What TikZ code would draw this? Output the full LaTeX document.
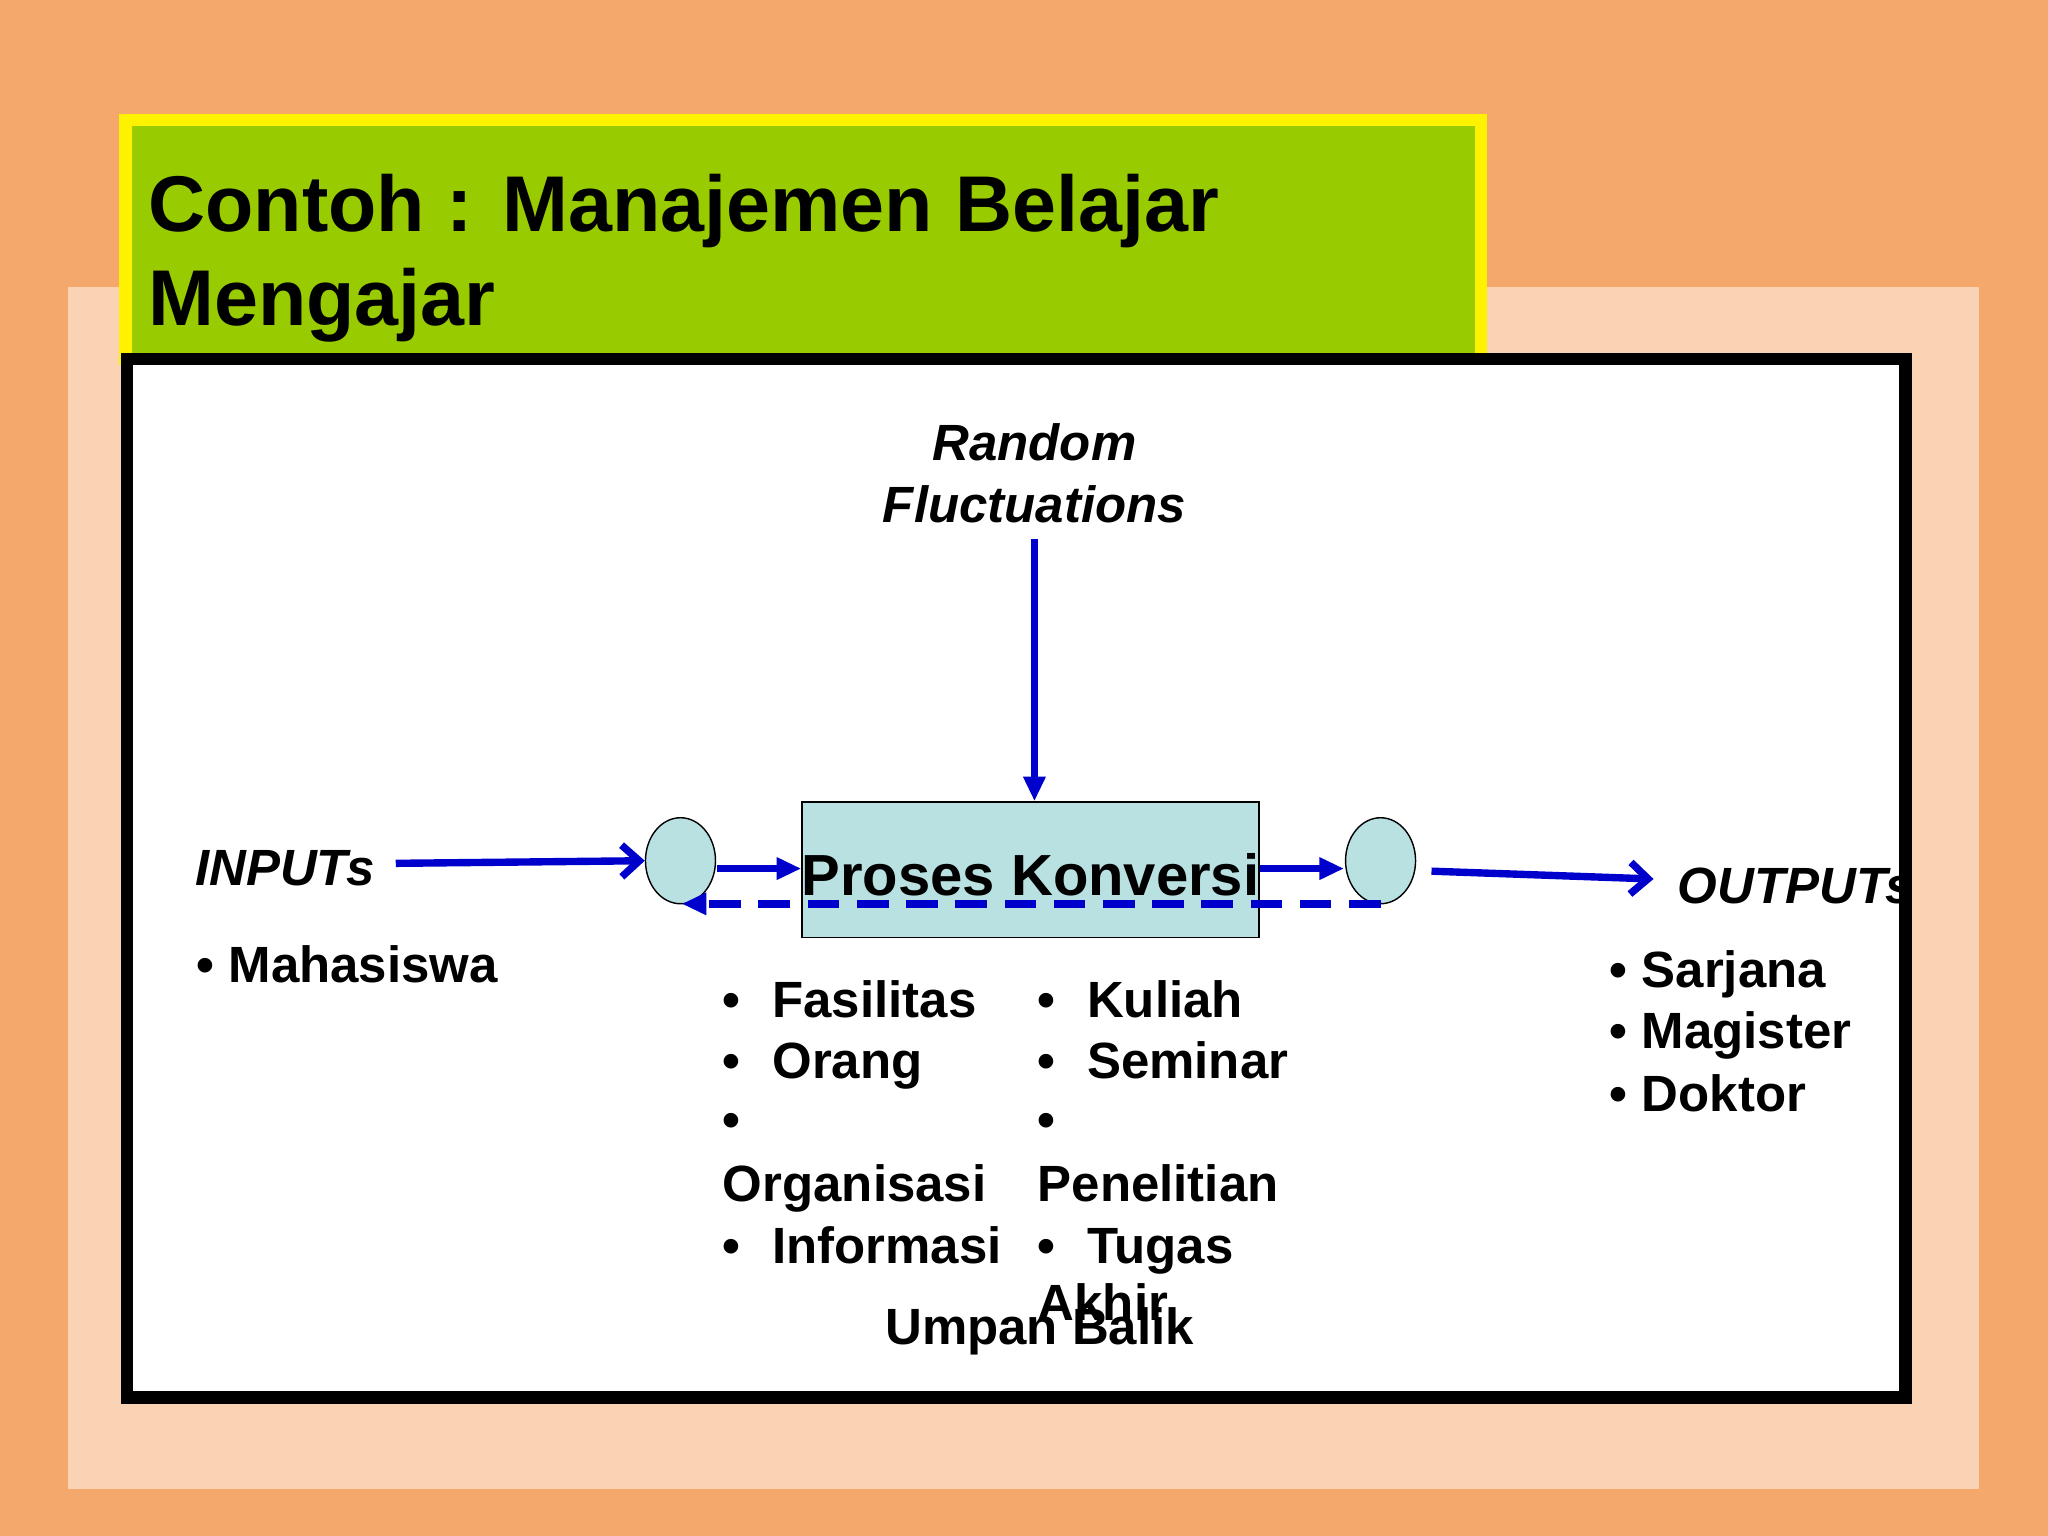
\documentclass[tikz,border=0pt]{standalone}
\usepackage{fontspec}
\setmainfont{Liberation Sans}
\usetikzlibrary{arrows.meta,shapes.geometric}
\definecolor{bgor}{HTML}{F5A86C}
\definecolor{bglt}{HTML}{FAD2B4}
\definecolor{tgreen}{HTML}{99CC00}
\definecolor{ablue}{HTML}{0000CC}
\definecolor{pbox}{HTML}{B9E1E2}
\tikzset{
 lbl/.style={font=\fontsize{14.5}{17}\selectfont\bfseries, inner sep=0pt, anchor=mid west},
 ital/.style={font=\fontsize{14.5}{17}\selectfont\bfseries\itshape, inner sep=0pt},
 arr/.style={draw=ablue, line width=2.1pt},
 circ/.style={draw=black, fill=pbox, ellipse, minimum width=0.7cm, minimum height=0.86cm}
}
\begin{document}
\begin{tikzpicture}[x=0.01306cm,y=-0.01306cm]
\useasboundingbox (0,0) rectangle (1568,1176);
\fill[bgor] (0,0) rectangle (1568,1176);
\fill[bglt] (52,220) rectangle (1515,1140);
\draw[yellow, line width=3.5pt, fill=tgreen] (96,92) rectangle (1134,275);
\node[font=\fontsize{22.5}{27}\selectfont\bfseries, anchor=mid west, inner sep=0pt] (t1) at (113,170) {Contoh : Manajemen Belajar};
\node[font=\fontsize{22.5}{27}\selectfont\bfseries, anchor=mid west, inner sep=0pt] (t2) at (113,242) {Mengajar};
\draw[black, line width=3.5pt, fill=white] (97,275) rectangle (1459,1070);
\node[ital] (rf1) at (792,339) {Random};
\node[ital] (rf2) at (792,386) {Fluctuations};
\node[draw=black, fill=pbox, minimum width=350*0.01306cm, minimum height=104*0.01306cm, inner sep=0pt] (pk) at (789,666) {};
\node[font=\fontsize{16.5}{20}\selectfont\bfseries, inner sep=0pt] (pkt) at (789,670) {Proses Konversi};
\node[circ] (cl) at (521,659) {};
\node[circ] (cr) at (1057,659) {};
\node[ital] (in) at (218,665) {INPUTs};
\node[ital] (out) at (1375,678) {OUTPUTs};
\coordinate (rfs) at (792,413);
\coordinate (ins) at (303,661);
\coordinate (ous) at (1096,667);
\coordinate (oue) at (1266,673);
\coordinate (fbs) at (1057,692);
\coordinate (fbe) at (522,692);
\draw[arr,-{Triangle[length=7pt,width=6pt]}] (rfs) -- (pk.north -| rfs);
\draw[arr,-{Straight Barb[length=5pt,width=9pt]}] (ins) -- (cl.west);
\draw[arr,-{Triangle[length=7pt,width=6pt]}] (549,665) -- (pk.west |- 0,665);
\draw[arr,-{Triangle[length=7pt,width=6pt]}] (pk.east |- 0,665) -- (1029,665);
\draw[arr,dashed,dash pattern=on 9pt off 5pt,-{Triangle[length=7pt,width=6pt]}] (fbs) -- (fbe);
\draw[arr,-{Straight Barb[length=5pt,width=9pt]}] (ous) -- (oue);
\node[lbl] (m) at (150,745) {• Mahasiswa};
\node[lbl] (a1) at (553,772) {•\hspace{9pt}Fasilitas};
\node[lbl] (a2) at (553,819) {•\hspace{9pt}Orang};
\node[lbl] (a3) at (553,864) {•};
\node[lbl] (a4) at (553,913) {Organisasi};
\node[lbl] (a5) at (553,960) {•\hspace{9pt}Informasi};
\node[lbl] (b1) at (794,772) {•\hspace{9pt}Kuliah};
\node[lbl] (b2) at (794,819) {•\hspace{9pt}Seminar};
\node[lbl] (b3) at (794,864) {•};
\node[lbl] (b4) at (794,913) {Penelitian};
\node[lbl] (b5) at (794,960) {•\hspace{9pt}Tugas};
\node[lbl] (b6) at (794,1004) {Akhir};
\node[lbl,anchor=center] (ub) at (796,1019) {Umpan Balik};
\node[lbl] (o1) at (1232,749) {• Sarjana};
\node[lbl] (o2) at (1232,796) {• Magister};
\node[lbl] (o3) at (1232,844) {• Doktor};
\end{tikzpicture}
\end{document}
